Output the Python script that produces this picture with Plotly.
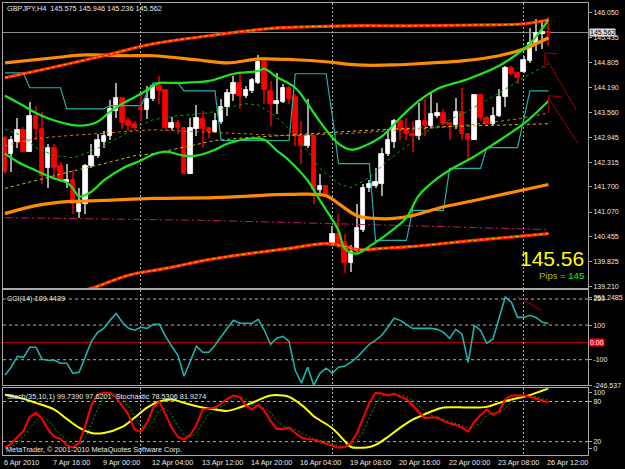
import plotly.graph_objects as go

# ---------------- data ----------------
bar_index = list(range(89))
open_ = [142.93,142.53,142.81,143.13,142.58,143.48,143.16,142.18,142.68,142.21,
         141.81,141.86,141.06,141.28,142.21,142.48,142.83,142.96,143.60,143.93,
         143.36,143.28,143.68,143.63,143.90,144.23,144.13,143.18,143.31,143.18,
         142.03,143.16,143.41,143.18,143.08,143.33,143.70,144.03,144.30,143.98,
         144.10,144.30,144.83,144.10,143.78,143.83,144.18,143.95,142.98,142.73,
         142.98,141.61,141.73,140.26,140.51,140.31,139.79,140.14,140.63,141.66,
         141.73,141.78,142.51,142.83,143.36,143.16,143.03,142.98,143.36,143.23,
         143.48,143.55,143.31,143.26,143.58,143.03,142.86,144.00,143.43,143.28,
         143.48,143.95,144.68,144.55,144.58,144.85,145.30,145.53,145.575]
high = [142.98,142.98,143.43,143.21,143.83,143.73,143.58,142.78,142.78,142.31,
        142.26,142.11,141.68,142.28,142.78,143.03,143.11,143.88,144.30,143.95,
        143.45,143.36,144.03,144.23,144.28,144.48,144.15,143.45,143.38,143.21,
        143.43,143.75,143.60,143.21,143.55,143.90,144.15,144.48,144.60,144.23,
        144.43,145.00,144.90,144.35,144.55,144.28,144.23,144.03,143.36,143.90,
        142.98,142.03,141.75,140.73,141.03,140.53,140.24,141.28,141.76,141.88,
        142.16,142.68,143.16,143.40,143.45,143.43,143.36,143.80,143.90,144.05,
        143.80,143.65,143.31,143.93,144.18,143.06,144.00,144.00,143.48,143.70,
        144.15,144.73,144.73,144.58,144.98,145.68,145.90,145.85,145.946]
low = [142.03,142.06,142.66,142.58,142.58,142.86,141.78,141.68,141.93,141.81,
       141.68,141.03,140.93,141.03,142.18,142.43,142.66,142.86,143.43,143.16,
       143.11,143.11,143.36,143.41,143.85,143.78,143.13,143.13,143.01,142.03,
       142.03,142.98,142.66,142.93,143.06,143.28,143.48,143.85,143.65,143.93,
       144.05,144.28,143.78,143.23,143.53,143.80,143.78,142.71,142.28,142.68,
       141.28,141.53,141.48,140.23,140.18,139.54,139.56,140.06,140.56,141.56,
       141.68,141.48,142.48,142.66,142.86,142.86,142.56,142.86,142.98,143.18,
       143.43,143.26,142.86,143.16,142.86,142.38,142.86,143.36,143.23,143.23,
       143.45,143.70,144.50,144.28,144.55,144.80,145.10,145.15,145.236]
close = [142.06,142.86,143.13,142.58,143.48,143.16,141.98,142.66,142.18,141.86,
         141.86,141.28,141.28,142.23,142.48,142.86,142.98,143.65,143.93,143.31,
         143.23,143.18,143.63,143.90,144.23,144.10,143.18,143.31,143.18,142.03,
         143.18,143.43,143.16,143.08,143.36,143.70,144.05,144.30,143.98,144.13,
         144.38,144.83,144.13,143.78,143.85,144.18,143.90,142.96,142.71,142.98,
         141.61,141.73,141.51,140.51,140.26,139.79,140.06,140.66,141.68,141.76,
         141.81,142.53,142.88,143.36,143.13,143.01,142.96,143.36,143.23,143.53,
         143.55,143.28,143.26,143.58,143.01,142.86,144.00,143.43,143.28,143.48,
         143.95,144.68,144.53,144.43,144.88,145.30,145.55,145.575,145.562]

time_label_bars = [0, 8, 16, 24, 32, 40, 48, 56, 64, 72, 80, 88]
time_labels = ["6 Apr 2010", "7 Apr 16:00", "9 Apr 00:00", "12 Apr 04:00", "13 Apr 12:00",
               "14 Apr 20:00", "16 Apr 04:00", "19 Apr 08:00", "20 Apr 16:00",
               "22 Apr 00:00", "23 Apr 08:00", "26 Apr 12:00"]
week_grid_bars = [22, 53, 84]

price_ticks = [146.050, 145.435, 144.805, 144.190, 143.560, 142.945,
               142.315, 141.700, 141.070, 140.455, 139.825, 139.210]

# main-chart indicator lines (bar index, value)
outer_up_bars = [0, 8, 16, 24, 33, 42, 48, 56, 65, 76, 84, 88]
outer_up_vals = [144.43, 144.70, 144.98, 145.28, 145.48, 145.65, 145.70, 145.73, 145.73, 145.75, 145.78, 145.88]
outer_dn_bars = [10, 14, 20, 26, 33, 40, 46, 52, 55, 57, 61, 66, 76, 88]
outer_dn_vals = [139.01, 139.16, 139.49, 139.66, 139.88, 140.04, 140.16, 140.28, 140.21, 140.13, 140.16, 140.21, 140.36, 140.53]
mid_up_bars = [0, 8, 13, 20, 24, 31, 36, 41, 47, 52, 57, 63, 69, 74, 80, 84, 88]
mid_up_vals = [144.80, 144.93, 145.00, 144.98, 144.98, 144.88, 144.80, 144.90, 144.88, 144.83, 144.75, 144.75, 144.80, 144.85, 144.98, 145.15, 145.43]
mid_dn_bars = [0, 5, 10, 16, 24, 34, 46, 52, 54, 57, 60, 63, 66, 70, 76, 82, 88]
mid_dn_vals = [141.03, 141.23, 141.33, 141.36, 141.41, 141.43, 141.51, 141.48, 141.28, 140.98, 140.91, 140.91, 140.98, 141.16, 141.36, 141.56, 141.76]
green_up_bars = [0, 3, 5, 8, 12, 15, 17, 19, 22, 24, 25, 28, 33, 37, 41, 42, 44, 47, 49, 51,
                 54, 56, 58, 61, 64, 67, 70, 75, 80, 83, 85, 88]
green_up_vals = [143.98, 143.73, 143.55, 143.36, 143.23, 143.33, 143.58, 143.78, 144.03, 144.23,
                 144.30, 144.30, 144.35, 144.53, 144.60, 144.65, 144.45, 144.18, 143.78, 143.33,
                 142.78, 142.63, 142.71, 142.96, 143.43, 143.85, 144.15, 144.40, 144.73, 145.03,
                 145.28, 145.88]
green_dn_bars = [0, 2, 5, 8, 10, 11, 12, 14, 16, 19, 22, 24, 26, 29, 31, 34, 36, 40, 42, 44,
                 46, 49, 51, 54, 55, 57, 59, 62, 65, 67, 70, 73, 76, 80, 84, 88]
green_dn_vals = [142.53, 142.33, 142.11, 141.91, 141.81, 141.66, 141.46, 141.58, 141.86, 142.16,
                 142.36, 142.51, 142.58, 142.48, 142.48, 142.63, 142.78, 142.91, 142.88, 142.61,
                 142.36, 141.86, 141.36, 140.61, 140.16, 140.03, 140.21, 140.53, 140.93, 141.48,
                 141.91, 142.21, 142.46, 142.86, 143.28, 143.85]
stop_bars = [0, 3, 4, 9, 10, 16, 17, 22, 23, 24, 28, 29, 34, 35, 46, 47, 52, 53, 54, 59,
             60, 65, 66, 71, 72, 77, 78, 83, 84, 85, 88]
stop_vals = [144.55, 144.55, 144.18, 144.18, 143.65, 143.65, 143.73, 143.73, 144.05, 144.30,
             144.30, 144.10, 144.10, 142.86, 142.86, 144.53, 144.53, 143.48, 142.28, 142.28,
             140.36, 140.36, 141.11, 141.11, 142.16, 142.16, 142.68, 142.68, 143.40, 144.10, 144.10]
gdash_bars = [0, 3, 5, 8, 11, 13, 16, 19, 21, 24, 28, 33, 36, 39, 41, 43, 45, 47, 49, 51,
              54, 56, 59, 62, 65, 67, 70, 75, 80, 84, 88]
gdash_vals = [143.15, 142.96, 142.68, 142.48, 142.43, 142.53, 142.73, 142.98, 143.18, 143.38,
              143.48, 143.55, 143.68, 143.78, 143.75, 143.55, 143.30, 142.98, 142.61, 142.16,
              141.78, 141.68, 141.93, 142.36, 142.71, 142.98, 143.23, 143.60, 144.05, 144.43, 144.78]
ydash_bars = [0, 5, 10, 16, 21, 24, 28, 34, 39, 46, 57, 70, 88]
ydash_vals = [141.66, 141.86, 142.06, 142.28, 142.48, 142.53, 142.66, 142.86, 142.93, 143.00, 143.10, 143.20, 143.28]
odash_bars = [0, 5, 10, 16, 24, 31, 39, 46, 55, 70, 77, 83, 88]
odash_vals = [142.73, 142.91, 142.98, 143.05, 143.13, 143.08, 143.03, 142.98, 143.03, 143.18, 143.28, 143.40, 143.55]
mdash_bars = [0, 33, 65, 88]
mdash_vals = [140.93, 140.86, 140.73, 140.63]

# CCI(14)
cci = [-189,-143,-80,-86,-28,-28,-97,-103,-103,-120,
       -120,-178,-172,-86,6,58,81,127,167,116,
       81,70,87,81,104,104,35,-22,-74,-195,
       -109,-22,-57,-57,-17,35,81,127,110,110,
       110,133,70,-11,24,35,6,-161,-235,-143,
       -246.537,-178,-149,-178,-143,-138,-115,-86,-51,-11,
       12,41,87,139,127,104,81,81,81,81,
       75,58,24,75,47,-115,98,70,-5,18,
       139,261.2485,231,144,144,156,144,116,109.4439]
cci_levels = [250, 100, -100]
cci_ticks = [261.2485, 250, 100, -100, -246.537]

# Stoch(35,10,1) main (yellow), sparse read points
slow_bars = [0, 3, 5, 8, 10, 12, 14, 16, 19, 21, 23, 25, 27, 29, 32, 34, 36, 38, 40, 43,
             45, 46, 48, 49, 50, 51, 53, 54, 55, 56, 58, 59, 60, 62, 64, 66, 67, 69, 71, 75,
             78, 80, 82, 84, 86, 88]
slow_vals = [90, 84, 78, 68, 54, 41, 33, 33, 42, 56, 71, 80, 83, 78, 71, 68, 66, 71, 78, 89,
             89, 87, 75, 67, 58, 52, 40, 31, 21, 12, 11, 12, 15, 27, 41, 53, 57, 65, 71, 71,
             72, 78, 83, 87, 93, 99.739]
# Stochastic main (red) and signal (green dotted)
fast_main = [11,17,27,36,57,63,54,38,27,24,15,11,18,44,75,90,93,93,86,72,
             60,38,35,48,71,80,60,41,27,23,30,45,68,69,71,77,84,89,87,74,
             68,75,66,51,39,39,41,33,26,24,23,20,17,14,11,12,18,33,56,78,
             93,92,89,92,87,84,74,65,55,56,56,51,47,45,41,35,50,60,68,60,
             65,83,89,89,89,87,84,81,78.5306]
fast_signal = [9,12,18,27,40,52,58,52,40,30,22,17,15,24,46,70,86,92,91,84,
               73,57,44,40,51,66,70,60,43,30,27,33,48,61,69,72,77,83,87,83,
               76,72,70,64,52,43,40,38,33,28,24,22,20,17,14,12,14,21,36,56,
               76,88,91,91,89,88,82,74,65,59,56,54,51,48,44,40,42,48,59,63,
               64,69,79,87,89,88,87,84,81.9274]
stoch_levels = [80, 20]
stoch_ticks = [93, 80, 20, 9]
stoch_ticktext = ["100", "80", "20", "0"]

# hand-drawn trend lines (bar, value) pairs
main_trend_lines = [((87.4, 145.05), (87.4, 144.68)), ((87.4, 145.05), (89.4, 145.03)),
                    ((87.4, 144.98), (92.5, 143.63)), ((88.0, 143.98), (88.0, 143.55)),
                    ((88.0, 143.98), (90.2, 143.95)), ((88.0, 143.93), (92.8, 142.78))]
cci_trend_line = ((82.9, 265), (86.9, 185))

bid = close[-1]

# ---------------- figure ----------------
fig = go.Figure()

up = [c >= o for o, c in zip(open_, close)]
body_color = ["#FFFFFF" if u else "#FF0000" for u in up]
wick_color = ["#A0A0A0" if u else "#B40000" for u in up]

fig.add_trace(go.Bar(x=bar_index, y=[h - l for h, l in zip(high, low)], base=low, width=0.17,
                     marker=dict(color=wick_color, line=dict(width=0)), hoverinfo="skip"))
fig.add_trace(go.Bar(x=bar_index, y=[c - o for o, c in zip(open_, close)], base=open_, width=0.74,
                     marker=dict(color=body_color, line=dict(color=body_color, width=0.8)),
                     hoverinfo="skip"))


def line(xs, ys, color, width, dash="solid", yaxis="y", xaxis="x", shape="linear"):
    fig.add_trace(go.Scatter(x=xs, y=ys, mode="lines", xaxis=xaxis, yaxis=yaxis,
                             line=dict(color=color, width=width, dash=dash, shape=shape),
                             hoverinfo="skip"))


line(mdash_bars, mdash_vals, "#C0166E", 1, "8px,3px,2px,3px")
line(ydash_bars, ydash_vals, "#D2C200", 1, "3px,3px")
line(odash_bars, odash_vals, "#D07A10", 1, "3px,3px")
line(gdash_bars, gdash_vals, "#00A000", 1, "3px,3px")
line(stop_bars, stop_vals, "#20B2AA", 1.2)
line(mid_up_bars, mid_up_vals, "#FF8C00", 3.2, shape="spline")
line(mid_dn_bars, mid_dn_vals, "#FF8C00", 3.2, shape="spline")
line(outer_up_bars, outer_up_vals, "#FF2A00", 3.2, shape="spline")
line(outer_up_bars, outer_up_vals, "#FFC000", 1, "3px,3px", shape="spline")
line(outer_dn_bars, outer_dn_vals, "#FF2A00", 3.2, shape="spline")
line(outer_dn_bars, outer_dn_vals, "#FFC000", 1, "3px,3px", shape="spline")
line(green_up_bars, green_up_vals, "#1EE61E", 2.2, shape="spline")
line(green_dn_bars, green_dn_vals, "#1EE61E", 2.2, shape="spline")

# CCI
line(bar_index, cci, "#20B2AA", 1.6, yaxis="y2", xaxis="x2")
# Stochastics
line(bar_index, fast_signal, "#00A000", 1, "2px,2px", yaxis="y3", xaxis="x3")
line(slow_bars, slow_vals, "#FFFF00", 2, yaxis="y3", xaxis="x3", shape="spline")
line(bar_index, fast_main, "#FF0000", 2, yaxis="y3", xaxis="x3")

shapes = []
shapes.append(dict(type="line", xref="x domain", yref="y", x0=0, x1=1, y0=bid, y1=bid,
                   line=dict(color="#8C8C8C", width=1), layer="below"))
for lv in cci_levels:
    shapes.append(dict(type="line", xref="x2 domain", yref="y2", x0=0, x1=1, y0=lv, y1=lv,
                       line=dict(color="#B0B0B0", width=1, dash="3px,3px"), layer="below"))
shapes.append(dict(type="line", xref="x2 domain", yref="y2", x0=0, x1=1, y0=0, y1=0,
                   line=dict(color="#C00000", width=1), layer="below"))
for lv in stoch_levels:
    shapes.append(dict(type="line", xref="x3 domain", yref="y3", x0=0, x1=1, y0=lv, y1=lv,
                       line=dict(color="#B0B0B0", width=1, dash="3px,3px"), layer="below"))
for (a, b) in main_trend_lines:
    shapes.append(dict(type="line", xref="x", yref="y", x0=a[0], y0=a[1], x1=b[0], y1=b[1],
                       line=dict(color="#A00000", width=1)))
shapes.append(dict(type="line", xref="x2", yref="y2", x0=cci_trend_line[0][0], y0=cci_trend_line[0][1],
                   x1=cci_trend_line[1][0], y1=cci_trend_line[1][1], line=dict(color="#C00000", width=1)))

FONT = "Liberation Sans, Arial, sans-serif"
TXT = "#E8E8E8"
BORDER = "#A8A8A8"
GRID = "#B0B0B0"

xr = [-0.32, -0.32 + 592 / 6.25]
xcommon = dict(range=xr, tickvals=week_grid_bars, showticklabels=False, showgrid=True,
               gridcolor=GRID, griddash="2px,2px", gridwidth=1, zeroline=False,
               showline=True, mirror=True, linecolor=BORDER, linewidth=1, ticks="", fixedrange=True)

H = 453.0
def dom(top_px, bot_px):
    return [(455 - bot_px) / H, (455 - top_px) / H]

annotations = []
for b, t in zip(time_label_bars, time_labels):
    annotations.append(dict(x=b, xref="x3", y=0, yref="paper", yshift=-7, text=t, showarrow=False,
                            xanchor="left", yanchor="middle", xshift=-3,
                            font=dict(family=FONT, size=7.3, color=TXT)))
annotations += [
    dict(x=0.004, y=dom(8, 8)[0], xref="paper", yref="paper", text="GBPJPY,H4  145.575 145.946 145.236 145.562",
         showarrow=False, xanchor="left", yanchor="middle", font=dict(family=FONT, size=7.3, color=TXT)),
    dict(x=0.004, y=dom(298, 298)[0], xref="paper", yref="paper", text="CCI(14) 109.4439",
         showarrow=False, xanchor="left", yanchor="middle", font=dict(family=FONT, size=7.3, color=TXT)),
    dict(x=0.004, y=dom(396, 396)[0], xref="paper", yref="paper",
         text="Stoch(35,10,1) 99.7390 97.6201  Stochastic 78.5306 81.9274",
         showarrow=False, xanchor="left", yanchor="middle", font=dict(family=FONT, size=7.3, color=TXT)),
    dict(x=0.002, y=dom(449, 449)[0], xref="paper", yref="paper",
         text="MetaTrader, © 2001-2010 MetaQuotes Software Corp.",
         showarrow=False, xanchor="left", yanchor="middle", font=dict(family=FONT, size=7.3, color=TXT)),
    dict(x=0.997, y=dom(258, 258)[0], xref="paper", yref="paper", text="145.56",
         showarrow=False, xanchor="right", yanchor="middle", font=dict(family=FONT, size=21, color="#FFFF00")),
    dict(x=0.997, y=dom(275, 275)[0], xref="paper", yref="paper",
         text="<span style='color:#B8B800'>Pips = </span><span style='color:#00FF00'>145</span>",
         showarrow=False, xanchor="right", yanchor="middle", font=dict(family=FONT, size=9.5, color="#B8B800")),
    dict(x=1, y=bid, xref="paper", yref="y", text="145.562", showarrow=False, xanchor="left",
         yanchor="middle", xshift=1, bgcolor="#DCDCDC", borderpad=0,
         font=dict(family=FONT, size=7, color="#000000")),
    dict(x=1, y=0, xref="paper", yref="y2", text="0.00", showarrow=False, xanchor="left",
         yanchor="middle", xshift=1, bgcolor="#FF0000", borderpad=0,
         font=dict(family=FONT, size=7, color="#FFFFFF")),
]

ycommon = dict(side="right", showgrid=False, zeroline=False, showline=True, mirror=True,
               linecolor=BORDER, linewidth=1, ticks="outside", ticklen=3, tickcolor=BORDER,
               tickfont=dict(family=FONT, size=7, color=TXT), fixedrange=True)

fig.update_layout(
    width=625, height=469, margin=dict(l=2, r=31, t=2, b=14),
    paper_bgcolor="#000000", plot_bgcolor="#000000", showlegend=False,
    barmode="overlay", bargap=0,
    xaxis=dict(anchor="y", domain=[0, 1], **xcommon),
    xaxis2=dict(anchor="y2", domain=[0, 1], matches="x", **xcommon),
    xaxis3=dict(anchor="y3", domain=[0, 1], matches="x", **xcommon),
    yaxis=dict(anchor="x", domain=dom(2, 288), range=[139.16, 146.30], tickvals=price_ticks,
               ticktext=[f"{v:.3f}" for v in price_ticks], **ycommon),
    yaxis2=dict(anchor="x2", domain=dom(290, 385), range=[-246.54, 300], tickvals=cci_ticks,
                ticktext=["261.2485", "250", "100", "-100", "-246.537"], **ycommon),
    yaxis3=dict(anchor="x3", domain=dom(388, 455), range=[0, 100], tickvals=stoch_ticks,
                ticktext=stoch_ticktext, **ycommon),
    shapes=shapes, annotations=annotations,
)

fig.write_html("out.html")
